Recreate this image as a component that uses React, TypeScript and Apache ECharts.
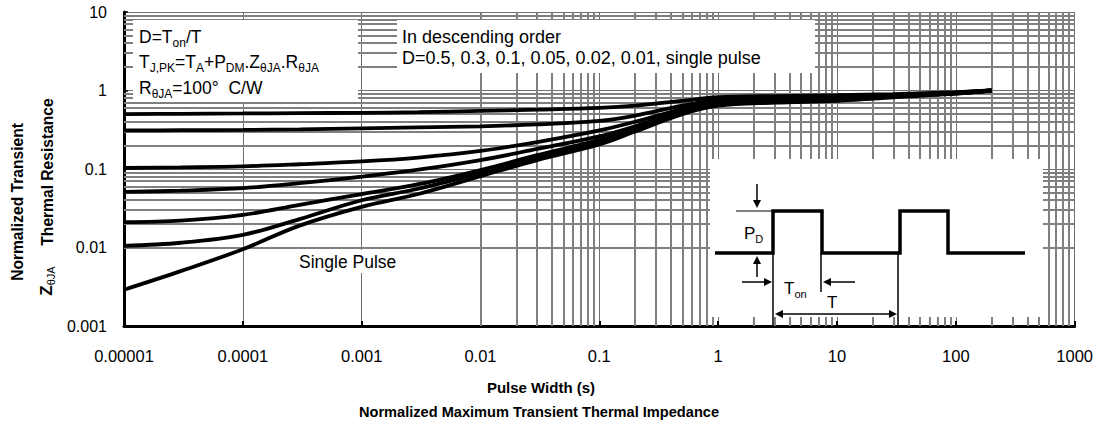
import React, { useEffect, useRef } from "react";
import * as echarts from "echarts";

const FONT = "'Liberation Sans', Arial, Helvetica, sans-serif";

// Axis ticks
const X_TICK_LABELS = ["0.00001", "0.0001", "0.001", "0.01", "0.1", "1", "10", "100", "1000"];
const Y_TICK_LABELS = ["0.001", "0.01", "0.1", "1", "10"];
const X_DECADES = [1e-5, 1e-4, 1e-3, 1e-2, 1e-1, 1, 10, 100];
const Y_DECADES = [1e-3, 1e-2, 1e-1, 1];
const MINOR_MULTIPLIERS = [2, 3, 4, 5, 6, 7, 8, 9];

// Pulse width (s)
const TIMES = [1e-5, 3e-5, 1e-4, 3e-4, 1e-3, 3e-3, 1e-2, 3e-2, 0.1, 0.2, 0.5, 1, 3, 10, 30, 100, 200];
// Normalized transient thermal resistance per duty cycle
const Z_D050 = [0.50, 0.505, 0.51, 0.515, 0.52, 0.53, 0.55, 0.57, 0.60, 0.64, 0.74, 0.82, 0.85, 0.87, 0.90, 0.95, 1.0];
const Z_D030 = [0.31, 0.312, 0.315, 0.32, 0.33, 0.34, 0.35, 0.37, 0.41, 0.48, 0.64, 0.76, 0.80, 0.83, 0.88, 0.94, 1.0];
const Z_D010 = [0.103, 0.105, 0.108, 0.115, 0.125, 0.14, 0.17, 0.22, 0.31, 0.40, 0.58, 0.71, 0.75, 0.79, 0.86, 0.93, 1.0];
const Z_D005 = [0.051, 0.053, 0.057, 0.066, 0.08, 0.098, 0.13, 0.18, 0.26, 0.35, 0.55, 0.69, 0.73, 0.77, 0.85, 0.93, 1.0];
const Z_D002 = [0.021, 0.022, 0.026, 0.035, 0.048, 0.064, 0.097, 0.15, 0.235, 0.33, 0.53, 0.67, 0.72, 0.76, 0.84, 0.92, 1.0];
const Z_D001 = [0.0105, 0.0115, 0.0145, 0.023, 0.040, 0.056, 0.089, 0.14, 0.22, 0.31, 0.52, 0.66, 0.71, 0.75, 0.83, 0.92, 1.0];
const Z_SINGLE = [0.0029, 0.005, 0.0095, 0.019, 0.033, 0.048, 0.081, 0.13, 0.205, 0.30, 0.50, 0.64, 0.70, 0.74, 0.82, 0.91, 1.0];

const SERIES_NAMES = ["D=0.5", "D=0.3", "D=0.1", "D=0.05", "D=0.02", "D=0.01", "single pulse"];
const SERIES_VALUES = [Z_D050, Z_D030, Z_D010, Z_D005, Z_D002, Z_D001, Z_SINGLE];

const sub = (fs: number) => ({
  fontSize: fs,
  fontFamily: FONT,
  fill: "#000",
  verticalAlign: "bottom",
  lineHeight: fs,
});

function label(x: number, y: number, text: string, fontSize: number, extra: any = {}) {
  return {
    type: "text",
    x,
    y,
    z: 60,
    silent: true,
    style: {
      text,
      fontSize,
      fontFamily: FONT,
      fill: "#000",
      align: "left",
      verticalAlign: "middle",
      lineHeight: fontSize + 6,
      rich: {
        s: sub(Math.round(fontSize * 0.66)),
      },
      ...extra,
    },
  };
}

function seg(x1: number, y1: number, x2: number, y2: number, w = 1.5) {
  return { type: "line", z: 61, silent: true, shape: { x1, y1, x2, y2 }, style: { stroke: "#000", lineWidth: w } };
}
function head(points: number[][]) {
  return { type: "polygon", z: 61, silent: true, shape: { points }, style: { fill: "#000" } };
}
function box(x: number, y: number, width: number, height: number) {
  return { type: "rect", z: 50, silent: true, shape: { x, y, width, height }, style: { fill: "#fff" } };
}
function boldText(x: number, y: number, text: string, fontSize: number, rotation = 0) {
  return {
    type: "text", x, y, z: 60, silent: true, rotation,
    style: { text, fontSize, fontWeight: "bold", fontFamily: FONT, fill: "#000", align: "center", verticalAlign: "middle" },
  };
}

export default function App() {
  const ref = useRef<HTMLDivElement>(null);

  useEffect(() => {
    if (!ref.current) return;
    const chart = echarts.init(ref.current, undefined, { renderer: "svg" });

    const minorX: number[] = [];
    X_DECADES.forEach((d) => MINOR_MULTIPLIERS.forEach((m) => minorX.push(d * m)));
    const minorY: number[] = [];
    Y_DECADES.forEach((d) => MINOR_MULTIPLIERS.forEach((m) => minorY.push(d * m)));

    const gridSeries = {
      type: "line",
      name: "grid",
      data: [],
      z: 1,
      silent: true,
      markLine: {
        z: 1,
        silent: true,
        symbol: ["none", "none"],
        label: { show: false },
        lineStyle: { color: "#808080", width: 2, type: "solid" },
        emphasis: { disabled: true },
        data: [
          ...minorX.map((v) => ({ xAxis: v })),
          ...minorY.map((v) => ({ yAxis: v })),
        ],
      },
    };

    const curves = SERIES_NAMES.map((name, i) => ({
      type: "line",
      name,
      z: 5,
      smooth: 0.35,
      showSymbol: false,
      symbol: "none",
      lineStyle: { color: "#000", width: 3.8 },
      data: TIMES.map((t, j) => [t, SERIES_VALUES[i][j]]),
    }));

    const graphic: any[] = [
      // white annotation boxes
      box(133, 20, 225, 82),
      box(397, 20, 418, 53),
      box(295, 250, 130, 23),
      box(710, 159, 333, 158),

      // box 1 text
      label(139, 37, "D=T{s|on}/T", 17.5),
      label(139, 62, "T{s|J,PK}=T{s|A}+P{s|DM}.Z{s|θJA}.R{s|θJA}", 17.5),
      label(139, 88, "R{s|θJA}=100°  C/W", 17.5),

      // box 2 text
      label(402, 37, "In descending order", 18),
      label(402, 58, "D=0.5, 0.3, 0.1, 0.05, 0.02, 0.01, single pulse", 18),

      // single pulse
      label(299, 262, "Single Pulse", 17.5),

      // axis titles
      boldText(541, 387, "Pulse Width (s)", 15),
      boldText(539, 412, "Normalized Maximum Transient Thermal Impedance", 14.6),
      boldText(17, 202, "Normalized Transient", 15.6, Math.PI / 2),
      boldText(47, 172, "Thermal Resistance", 15.6, Math.PI / 2),
      {
        type: "text", x: 46, y: 281, z: 60, silent: true, rotation: Math.PI / 2,
        style: {
          text: "{z|Z}{s|θJA}",
          fontFamily: FONT,
          fill: "#000",
          align: "center",
          verticalAlign: "middle",
          rich: {
            z: { fontSize: 17, fontWeight: "bold", fontFamily: FONT, fill: "#000", lineHeight: 20 },
            s: { fontSize: 11, fontFamily: FONT, fill: "#000", verticalAlign: "bottom", lineHeight: 11 },
          },
        },
      },

      // pulse diagram
      {
        type: "polyline", z: 61, silent: true,
        shape: {
          points: [[715, 253], [773, 253], [773, 211], [822, 211], [822, 253], [900, 253], [900, 211], [948, 211], [948, 253], [1025, 253]],
        },
        style: { stroke: "#000", lineWidth: 3.5, fill: null, lineJoin: "miter" },
      },
      seg(736, 211, 772, 211, 1),
      seg(757, 184, 757, 202, 1.5),
      head([[753, 200], [761, 200], [757, 208]]),
      seg(757, 277, 757, 262, 1.5),
      head([[753, 264], [761, 264], [757, 256]]),
      label(744, 233, "P{s|D}", 17),
      seg(773, 253, 773, 326, 1.5),
      seg(821, 253, 821, 292, 1.5),
      seg(898, 253, 898, 326, 1.5),
      seg(742, 282, 765, 282, 1.5),
      head([[764, 278], [764, 286], [772, 282]]),
      seg(830, 282, 855, 282, 1.5),
      head([[831, 278], [831, 286], [823, 282]]),
      label(784, 288, "T{s|on}", 17),
      label(827, 302, "T", 17),
      seg(782, 314, 890, 314, 1.5),
      head([[783, 310], [783, 318], [775, 314]]),
      head([[889, 310], [889, 318], [897, 314]]),
    ];

    chart.setOption({
      animation: false,
      backgroundColor: "#fff",
      textStyle: { fontFamily: FONT },
      grid: { left: 124, right: 21, top: 12, bottom: 104 },
      xAxis: {
        type: "log",
        logBase: 10,
        min: 1e-5,
        max: 1000,
        splitNumber: 8,
        axisLine: { show: true, onZero: false, lineStyle: { color: "#000", width: 3 } },
        axisTick: { show: true, inside: true, length: 5, lineStyle: { color: "#000", width: 2 } },
        axisLabel: {
          color: "#000",
          fontSize: 16.5,
          fontFamily: FONT,
          margin: 21,
          formatter: (v: number) => X_TICK_LABELS[Math.round(Math.log10(v)) + 5] ?? "",
        },
        splitLine: { show: true, lineStyle: { color: "#707070", width: 1 } },
      },
      yAxis: {
        type: "log",
        logBase: 10,
        min: 0.001,
        max: 10,
        splitNumber: 4,
        axisLine: { show: true, onZero: false, lineStyle: { color: "#000", width: 3 } },
        axisTick: { show: true, inside: true, length: 4, lineStyle: { color: "#000", width: 1.5 } },
        axisLabel: {
          color: "#000",
          fontSize: 16,
          fontFamily: FONT,
          margin: 17,
          formatter: (v: number) => Y_TICK_LABELS[Math.round(Math.log10(v)) + 3] ?? "",
        },
        splitLine: { show: true, lineStyle: { color: "#707070", width: 1 } },
      },
      series: [gridSeries, ...curves],
      graphic,
    });

    return () => chart.dispose();
  }, []);

  return (
    <div
      ref={ref}
      style={{ position: "fixed", left: 0, top: 0, width: 1096, height: 430, background: "#fff" }}
    />
  );
}
